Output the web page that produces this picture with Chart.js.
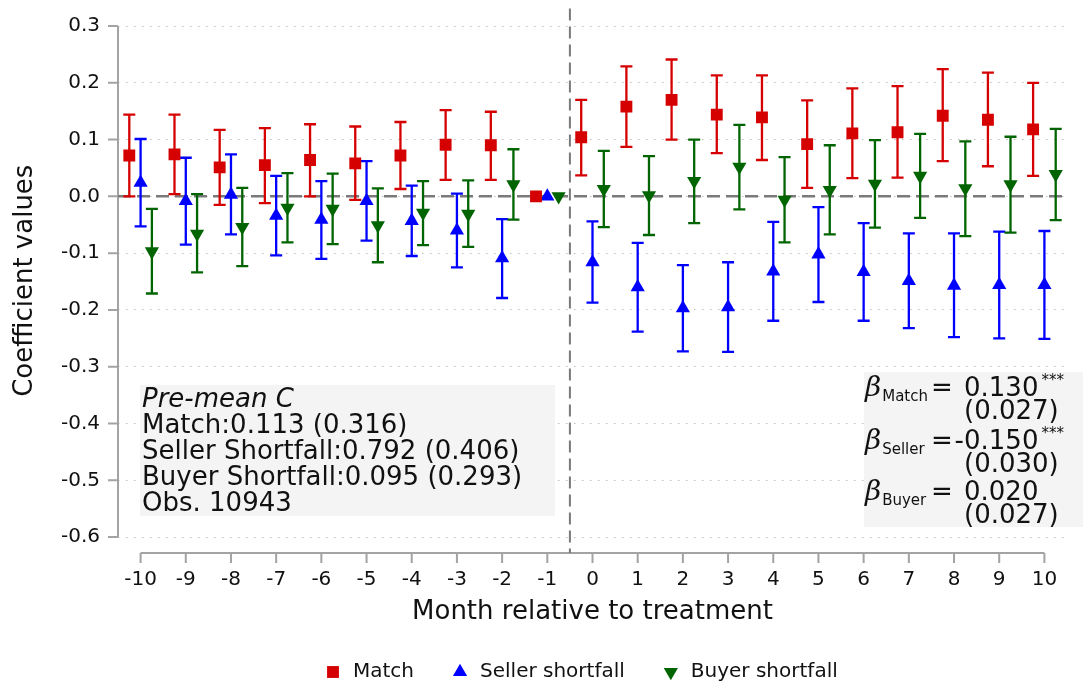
<!DOCTYPE html>
<html>
<head>
<meta charset="utf-8">
<script src="https://cdn.jsdelivr.net/npm/chart.js@4/dist/chart.umd.min.js"></script>
<style>
  html, body { margin: 0; padding: 0; background: #fff; }
</style>
</head>
<body>
<canvas id="chart" width="1083" height="685"></canvas>
<script>
// --- data ---
const months = [-10, -9, -8, -7, -6, -5, -4, -3, -2, -1, 0, 1, 2, 3, 4, 5, 6, 7, 8, 9, 10];
const xTickLabels = ['-10', '-9', '-8', '-7', '-6', '-5', '-4', '-3', '-2', '-1', '0', '1', '2', '3', '4', '5', '6', '7', '8', '9', '10'];
const yTicks = [0.3, 0.2, 0.1, 0.0, -0.1, -0.2, -0.3, -0.4, -0.5, -0.6];
const yTickLabels = ['0.3', '0.2', '0.1', '0.0', '-0.1', '-0.2', '-0.3', '-0.4', '-0.5', '-0.6'];

const matchCoef = [0.072, 0.074, 0.051, 0.055, 0.064, 0.058, 0.072, 0.091, 0.090, 0, 0.104, 0.158, 0.170, 0.144, 0.139, 0.092, 0.111, 0.113, 0.142, 0.135, 0.118];
const matchLow  = [0.000, 0.004, -0.015, -0.012, 0.000, -0.006, 0.013, 0.029, 0.029, 0, 0.037, 0.087, 0.100, 0.076, 0.064, 0.015, 0.032, 0.033, 0.062, 0.053, 0.036];
const matchHigh = [0.144, 0.144, 0.117, 0.120, 0.127, 0.123, 0.131, 0.152, 0.149, 0, 0.170, 0.229, 0.241, 0.213, 0.213, 0.169, 0.190, 0.194, 0.224, 0.218, 0.200];

const sellerCoef = [0.024, -0.008, 0.003, -0.034, -0.041, -0.008, -0.043, -0.060, -0.109, 0, -0.116, -0.160, -0.197, -0.195, -0.132, -0.102, -0.133, -0.149, -0.157, -0.156, -0.156];
const sellerLow  = [-0.053, -0.085, -0.067, -0.104, -0.110, -0.078, -0.105, -0.125, -0.179, 0, -0.187, -0.238, -0.273, -0.274, -0.219, -0.186, -0.219, -0.232, -0.248, -0.250, -0.251];
const sellerHigh = [0.101, 0.068, 0.074, 0.036, 0.027, 0.062, 0.019, 0.005, -0.040, 0, -0.044, -0.082, -0.121, -0.116, -0.045, -0.019, -0.047, -0.065, -0.065, -0.062, -0.061];

const buyerCoef = [-0.097, -0.066, -0.054, -0.020, -0.022, -0.051, -0.029, -0.031, 0.021, 0, 0.013, 0.002, 0.027, 0.052, -0.006, 0.011, 0.022, 0.036, 0.014, 0.021, 0.039];
const buyerLow  = [-0.171, -0.134, -0.123, -0.081, -0.084, -0.116, -0.086, -0.089, -0.041, 0, -0.054, -0.068, -0.047, -0.023, -0.081, -0.067, -0.055, -0.038, -0.070, -0.064, -0.042];
const buyerHigh = [-0.022, 0.004, 0.015, 0.041, 0.040, 0.014, 0.027, 0.028, 0.083, 0, 0.080, 0.071, 0.100, 0.126, 0.069, 0.090, 0.099, 0.110, 0.097, 0.105, 0.119];

const preMeanLines = ['Match:0.113 (0.316)', 'Seller Shortfall:0.792 (0.406)', 'Buyer Shortfall:0.095 (0.293)', 'Obs. 10943'];
const betaRows = [
  { sub: 'Match', coef: '0.130', se: '(0.027)', stars: '***' },
  { sub: 'Seller', coef: '-0.150', se: '(0.030)', stars: '***' },
  { sub: 'Buyer', coef: '0.020', se: '(0.027)', stars: '' }
];

const FONT = '"DejaVu Sans", Verdana, sans-serif';
const AXIS_GREY = '#a3a3a3';
const TEXT = '#111';

function series(label, coef, low, high, color, shift, style, rot, radius) {
  return {
    label: label,
    data: months.map((m, i) => ({ x: m + shift, y: coef[i] })),
    low: low,
    high: high,
    backgroundColor: color,
    borderColor: color,
    pointStyle: style,
    pointRotation: rot,
    pointRadius: radius,
    pointHoverRadius: radius,
    pointBorderWidth: 0,
    showLine: false
  };
}

const datasets = [
  series('Match', matchCoef, matchLow, matchHigh, '#d50000', -0.25, 'rect', 0, 8.4),
  series('Seller shortfall', sellerCoef, sellerLow, sellerHigh, '#0000ff', 0, 'triangle', 0, 8.2),
  series('Buyer shortfall', buyerCoef, buyerLow, buyerHigh, '#006400', 0.25, 'triangle', 180, 8.2)
];

function drawMarker(ctx, style, cx, cy, r, rot) {
  ctx.beginPath();
  if (style === 'rect') {
    const s = r * Math.SQRT1_2;
    ctx.rect(cx - s, cy - s, 2 * s, 2 * s);
  } else {
    let a = rot * Math.PI / 180;
    ctx.moveTo(cx + Math.sin(a) * r, cy - Math.cos(a) * r);
    a += 2 * Math.PI / 3;
    ctx.lineTo(cx + Math.sin(a) * r, cy - Math.cos(a) * r);
    a += 2 * Math.PI / 3;
    ctx.lineTo(cx + Math.sin(a) * r, cy - Math.cos(a) * r);
    ctx.closePath();
  }
  ctx.fill();
}

const decorations = {
  id: 'decorations',
  beforeDatasetsDraw(chart) {
    const { ctx, chartArea: a, scales: { x, y } } = chart;
    ctx.save();

    // note boxes
    ctx.fillStyle = '#f4f4f4';
    ctx.fillRect(140, 385, 415, 131);
    ctx.fillRect(864, 372, 219, 155);

    // axes, drawn apart from the plot like the original
    ctx.strokeStyle = AXIS_GREY;
    ctx.lineWidth = 2;
    ctx.beginPath();
    const yTop = y.getPixelForValue(yTicks[0]);
    const yBot = y.getPixelForValue(yTicks[yTicks.length - 1]);
    ctx.moveTo(a.left, yTop);
    ctx.lineTo(a.left, yBot);
    yTicks.forEach(v => {
      const py = y.getPixelForValue(v);
      ctx.moveTo(a.left - 10, py);
      ctx.lineTo(a.left, py);
    });
    const xl = x.getPixelForValue(months[0]);
    const xr = x.getPixelForValue(months[months.length - 1]);
    ctx.moveTo(xl, a.bottom);
    ctx.lineTo(xr, a.bottom);
    months.forEach(m => {
      const px = x.getPixelForValue(m);
      ctx.moveTo(px, a.bottom);
      ctx.lineTo(px, a.bottom + 10);
    });
    ctx.stroke();

    // zero line and treatment line
    ctx.strokeStyle = '#7a7a7a';
    ctx.lineWidth = 2.5;
    ctx.setLineDash([13, 6]);
    const y0 = y.getPixelForValue(0);
    ctx.beginPath();
    ctx.moveTo(a.left, y0);
    ctx.lineTo(a.right, y0);
    ctx.stroke();
    ctx.lineWidth = 2;
    ctx.setLineDash([12, 6]);
    const xv = x.getPixelForValue(-0.5);
    ctx.beginPath();
    ctx.moveTo(xv, a.top);
    ctx.lineTo(xv, a.bottom);
    ctx.stroke();
    ctx.setLineDash([]);

    // confidence intervals
    ctx.lineWidth = 2.3;
    chart.data.datasets.forEach(ds => {
      ctx.strokeStyle = ds.borderColor;
      ds.data.forEach((p, i) => {
        if (ds.low[i] === ds.high[i]) return;
        const px = x.getPixelForValue(p.x);
        const lo = y.getPixelForValue(ds.low[i]);
        const hi = y.getPixelForValue(ds.high[i]);
        ctx.beginPath();
        ctx.moveTo(px, lo);
        ctx.lineTo(px, hi);
        ctx.moveTo(px - 6, lo);
        ctx.lineTo(px + 6, lo);
        ctx.moveTo(px - 6, hi);
        ctx.lineTo(px + 6, hi);
        ctx.stroke();
      });
    });

    // pre-period means box
    ctx.fillStyle = TEXT;
    ctx.textAlign = 'left';
    ctx.textBaseline = 'alphabetic';
    ctx.font = 'italic 26px ' + FONT;
    ctx.fillText('Pre-mean C', 142, 407);
    ctx.font = '26px ' + FONT;
    preMeanLines.forEach((t, i) => ctx.fillText(t, 142, 433 + i * 26));

    // beta box
    const bases = [396, 449, 500];
    const numX = 964;
    betaRows.forEach((r, i) => {
      const b = bases[i];
      ctx.textAlign = 'left';
      ctx.font = 'italic 28px "DejaVu Serif", serif';
      ctx.fillText('\u03b2', 865, b);
      const bw = ctx.measureText('\u03b2').width;
      ctx.font = '15px ' + FONT;
      ctx.fillText(r.sub, 865 + bw + 1, b + 5);
      ctx.font = '26px ' + FONT;
      ctx.fillText('=', 931, b);
      // digits line up at numX; a minus sign hangs to the left of it
      const neg = r.coef.charAt(0) === '-';
      const start = neg ? numX - ctx.measureText('-').width : numX;
      ctx.fillText(r.coef, start, b);
      const end = start + ctx.measureText(r.coef).width;
      ctx.fillText(r.se, numX, b + 23);
      if (r.stars) {
        ctx.font = '15px ' + FONT;
        ctx.fillText(r.stars, end + 3, b - 11);
      }
    });

    ctx.restore();
  },
  afterDraw(chart) {
    // legend row under the axis title
    const { ctx } = chart;
    ctx.save();
    ctx.font = '20px ' + FONT;
    ctx.textBaseline = 'middle';
    ctx.textAlign = 'left';
    let cursor = 327;
    const cy = 672;
    chart.data.datasets.forEach(ds => {
      ctx.fillStyle = ds.backgroundColor;
      drawMarker(ctx, ds.pointStyle, cursor + 6, cy, ds.pointRadius, ds.pointRotation);
      ctx.fillStyle = TEXT;
      const tx = cursor + 26;
      ctx.fillText(ds.label, tx, cy);
      cursor = tx + ctx.measureText(ds.label).width + 40;
    });
    ctx.restore();
  }
};

new Chart(document.getElementById('chart'), {
  type: 'scatter',
  data: { datasets: datasets },
  options: {
    responsive: false,
    animation: false,
    events: [],
    layout: { padding: { top: 5, right: 16, bottom: 0, left: 0 } },
    plugins: {
      legend: { display: false },
      tooltip: { enabled: false }
    },
    scales: {
      x: {
        type: 'linear',
        min: -10.5,
        max: 10.5,
        afterBuildTicks: s => { s.ticks = months.map(m => ({ value: m })); },
        afterFit: s => { s.height = 132; s.paddingLeft = 0; s.paddingRight = 0; },
        grid: { display: false },
        border: { display: false },
        ticks: {
          padding: 7,
          color: TEXT,
          font: { family: FONT, size: 20 },
          maxRotation: 0,
          autoSkip: false,
          callback: (v, i) => xTickLabels[i]
        },
        title: {
          display: true,
          text: 'Month relative to treatment',
          color: TEXT,
          font: { family: FONT, size: 26, lineHeight: 1.2 },
          padding: { top: 0, bottom: 57 }
        }
      },
      y: {
        min: -0.628,
        max: 0.331,
        afterBuildTicks: s => { s.ticks = yTicks.map(v => ({ value: v })); },
        afterFit: s => { s.width = 118; s.paddingTop = 0; s.paddingBottom = 0; },
        grid: { color: '#bdbdbd', lineWidth: 1, drawTicks: false },
        border: { display: false, dash: [1.5, 6.5] },
        ticks: {
          padding: 18,
          color: TEXT,
          font: { family: FONT, size: 20 },
          autoSkip: false,
          callback: (v, i) => yTickLabels[i]
        },
        title: {
          display: true,
          text: 'Coefficient values',
          color: TEXT,
          font: { family: FONT, size: 26, lineHeight: 1.2 },
          padding: { top: 10, bottom: 0 }
        }
      }
    }
  },
  plugins: [decorations]
});
</script>
</body>
</html>
